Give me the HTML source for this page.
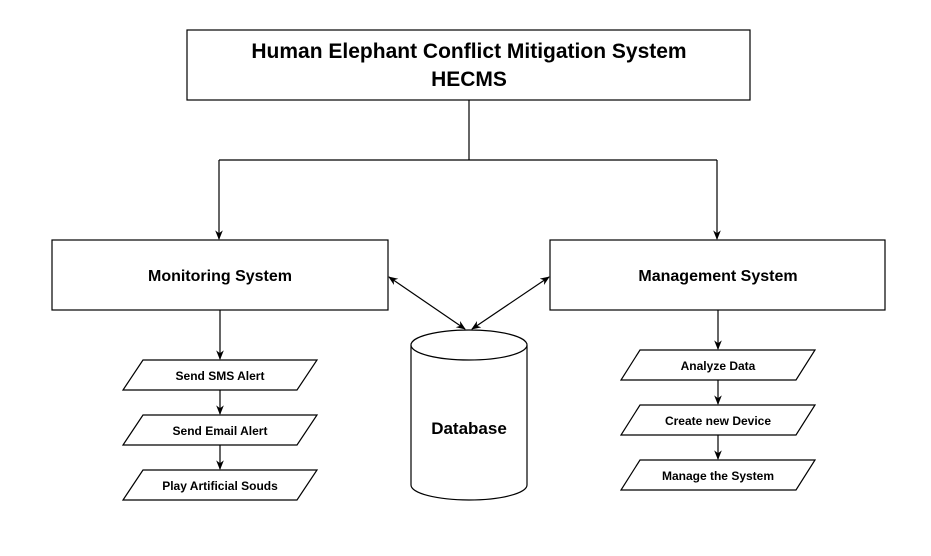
<!DOCTYPE html>
<html><head><style>body{margin:0;background:#fff}</style></head><body>
<svg width="931" height="551" viewBox="0 0 931 551" xmlns="http://www.w3.org/2000/svg" font-family="Liberation Sans, sans-serif" font-weight="bold">
<defs><marker id="a" viewBox="0 0 10 10" refX="9" refY="5" markerWidth="8" markerHeight="8" orient="auto-start-reverse"><path d="M0,1 L10,5 L0,9 L3,5z" fill="#000"/></marker></defs>
<g fill="#fff" stroke="#000" stroke-width="1.2">
<rect x="187" y="30" width="563" height="70"/>
<rect x="52" y="240" width="336" height="70"/>
<rect x="550" y="240" width="335" height="70"/>
<path d="M411,345 L411,485 A58,15 0 0 0 527,485 L527,345"/>
<ellipse cx="469" cy="345" rx="58" ry="15"/>
<path d="M143,360 L317,360 L297,390 L123,390z"/>
<path d="M143,415 L317,415 L297,445 L123,445z"/>
<path d="M143,470 L317,470 L297,500 L123,500z"/>
<path d="M640,350 L815,350 L796,380 L621,380z"/>
<path d="M640,405 L815,405 L796,435 L621,435z"/>
<path d="M640,460 L815,460 L796,490 L621,490z"/>
</g>
<g stroke="#000" stroke-width="1.2" fill="none">
<path d="M469,100 L469,160 M219,160 L717,160"/>
<path d="M219,160 L219,239" marker-end="url(#a)"/>
<path d="M717,160 L717,239" marker-end="url(#a)"/>
<path d="M220,310 L220,359" marker-end="url(#a)"/>
<path d="M220,390 L220,414" marker-end="url(#a)"/>
<path d="M220,445 L220,469" marker-end="url(#a)"/>
<path d="M718,310 L718,349" marker-end="url(#a)"/>
<path d="M718,380 L718,404" marker-end="url(#a)"/>
<path d="M718,435 L718,459" marker-end="url(#a)"/>
<path d="M389,277 L465,329" marker-start="url(#a)" marker-end="url(#a)"/>
<path d="M549,277 L472,329" marker-start="url(#a)" marker-end="url(#a)"/>
</g>
<g text-anchor="middle" fill="#000">
<text x="469" y="58" font-size="21">Human Elephant Conflict Mitigation System</text>
<text x="469" y="86" font-size="21">HECMS</text>
<text x="220" y="281" font-size="16">Monitoring System</text>
<text x="718" y="281" font-size="16">Management System</text>
<text x="469" y="434" font-size="17">Database</text>
<g font-size="12">
<text x="220" y="380">Send SMS Alert</text>
<text x="220" y="435">Send Email Alert</text>
<text x="220" y="490">Play Artificial Souds</text>
<text x="718" y="370">Analyze Data</text>
<text x="718" y="425">Create new Device</text>
<text x="718" y="480">Manage the System</text>
</g></g>
</svg>
</body></html>
